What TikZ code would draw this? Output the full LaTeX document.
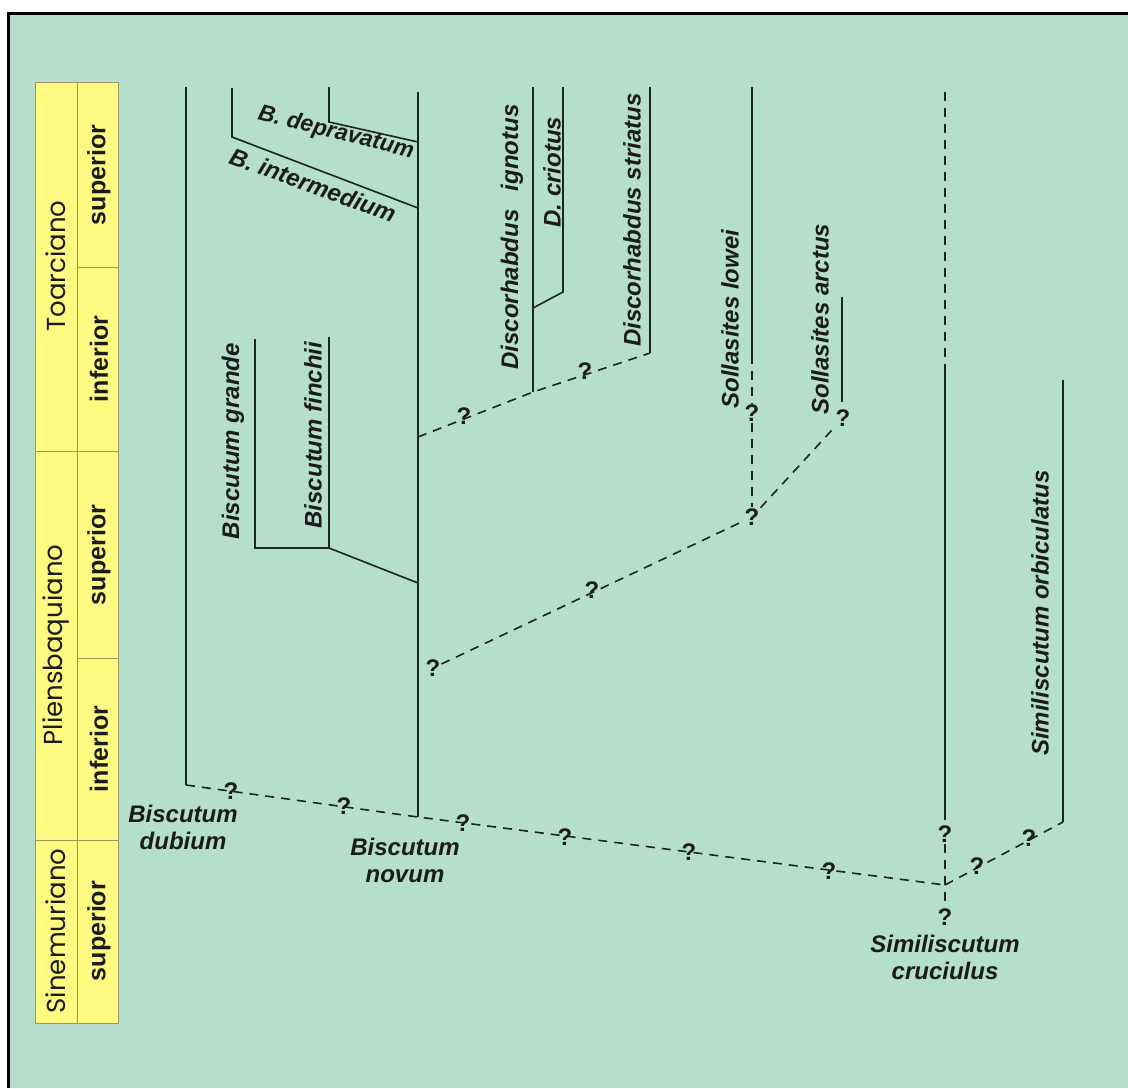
\documentclass[tikz,border=0pt]{standalone}
\usepackage{fontspec}
\setmainfont{Liberation Sans}
\newfontfamily\stagefont{Poppins}
\definecolor{bg}{RGB}{182,222,204}
\definecolor{yel}{RGB}{255,250,130}
\definecolor{cellb}{RGB}{160,150,90}
\definecolor{linec}{RGB}{28,36,32}
\definecolor{txt}{RGB}{25,28,26}
\tikzset{
 lin/.style={line width=1.6pt, draw=linec},
 dsh/.style={lin, dash pattern=on 9pt off 7pt},
 sp/.style={font=\bfseries\itshape\fontsize{24}{27}\selectfont, text=txt, inner sep=0pt, align=center},
 spv/.style={sp, rotate=90},
 qm/.style={font=\bfseries\fontsize{24}{24}\selectfont, text=txt, inner sep=1pt},
 stg/.style={font=\stagefont\fontsize{26}{26}\selectfont, text=txt, rotate=90, inner sep=0pt},
 sub/.style={font=\bfseries\fontsize{25}{25}\selectfont, text=txt, rotate=90, inner sep=0pt},
 cell/.style={draw=cellb, fill=yel, line width=0.8pt}
}
\begin{document}
\begin{tikzpicture}[x=1pt,y=-1pt]
\useasboundingbox (0,0) rectangle (1128,1088);
\fill[white] (0,0) rectangle (1128,1088);
\fill[bg] (7,12) rectangle (1128,1088);
\draw[line width=3.5pt, black] (7,13.5) -- (1128,13.5);
\draw[line width=3.5pt, black] (8.5,12) -- (8.5,1088);

% stage table
\foreach \a/\b in {82/451,451/840,840/1023} \draw[cell] (35,\a) rectangle (77,\b);
\foreach \a/\b in {82/267,267/451,451/658,658/840,840/1023} \draw[cell] (77,\a) rectangle (118,\b);
\node[stg] (toar) at (56,266) {Toarciano};
\node[stg] (plie) at (56,645) {Pliensbaquiano};
\node[stg] (sine) at (56,931) {Sinemuriano};
\node[sub] (tsup) at (99,175) {superior};
\node[sub] (tinf) at (99,359) {inferior};
\node[sub] (psup) at (99,555) {superior};
\node[sub] (pinf) at (99,749) {inferior};
\node[sub] (ssup) at (99,931) {superior};

% coordinates
\coordinate (dubT) at (186,87);  \coordinate (dubB) at (186,785);
\coordinate (novT) at (418,92);  \coordinate (novB) at (418,817);
\coordinate (J) at (945,885);
\coordinate (cruT) at (945,92);  \coordinate (cruM) at (945,368); \coordinate (cruS) at (945,820);
\coordinate (orbT) at (1063,380); \coordinate (orbB) at (1063,822);
\coordinate (intT) at (232,88);  \coordinate (intK) at (232,137); \coordinate (intE) at (418,208);
\coordinate (depT) at (329,87);  \coordinate (depK) at (329,122); \coordinate (depE) at (418,142);
\coordinate (graT) at (255,339); \coordinate (graB) at (255,548);
\coordinate (finT) at (329,337); \coordinate (finB) at (329,548); \coordinate (novG) at (418,583);
\coordinate (ignT) at (533,87);  \coordinate (ignB) at (533,392);
\coordinate (criT) at (563,87);  \coordinate (criK) at (563,292); \coordinate (criE) at (533,308);
\coordinate (strT) at (650,87);  \coordinate (strB) at (650,353);
\coordinate (novD) at (418,437);
\coordinate (lowT) at (752,87);  \coordinate (lowB) at (752,355);
\coordinate (arcT) at (842,297); \coordinate (arcB) at (842,402);

% solid ranges
\draw[lin] (dubT) -- (dubB);
\draw[lin] (novT) -- (novB);
\draw[dsh] (cruT) -- (cruM);
\draw[lin] (cruM) -- (cruS);
\draw[lin] (orbT) -- (orbB);
\draw[lin] (intT) -- (intK) -- (intE);
\draw[lin] (depT) -- (depK) -- (depE);
\draw[lin] (graT) -- (graB) -- (finB) -- (novG);
\draw[lin] (finT) -- (finB);
\draw[lin] (ignT) -- (ignB);
\draw[lin] (criT) -- (criK) -- (criE);
\draw[lin] (strT) -- (strB);
\draw[lin] (lowT) -- (lowB);
\draw[lin] (arcT) -- (arcB);

% dashed links
\draw[dsh] (dubB) -- (novB) -- (J);
\draw[dsh] (J) -- (orbB);
\draw[dsh] (novD) -- (ignB) -- (strB);

% question marks
\node[qm] (q1) at (231,791) {?};
\node[qm] (q2) at (344,806) {?};
\node[qm] (q3) at (463,823) {?};
\node[qm] (q4) at (565,837) {?};
\node[qm] (q5) at (689,852) {?};
\node[qm] (q6) at (829,871) {?};
\node[qm] (qc1) at (945,834) {?};
\node[qm] (qc2) at (945,917) {?};
\node[qm] (qo1) at (977,866) {?};
\node[qm] (qo2) at (1029,838) {?};
\node[qm] (qd1) at (464,416) {?};
\node[qm] (qd2) at (585,371) {?};
\node[qm] (qn) at (433,668) {?};
\node[qm] (qs) at (592,590) {?};
\node[qm] (ql1) at (752,413) {?};
\node[qm] (ql2) at (752,517) {?};
\node[qm] (qa) at (843,418) {?};

\draw[dsh] (qc1) -- (qc2);
\draw[dsh] (lowB) -- (ql1);
\draw[dsh] (ql1) -- (ql2);
\draw[dsh] (qn) -- (ql2);
\draw[dsh] (ql2) -- (qa);

% species labels
\node[sp] (ldub) at (183,827) {Biscutum\\dubium};
\node[sp] (lnov) at (405,860) {Biscutum\\novum};
\node[sp] (lcru) at (945,957) {Similiscutum\\cruciulus};
\node[spv] (lorb) at (1040,613) {Similiscutum orbiculatus};
\node[sp, rotate=-14, font=\bfseries\itshape\fontsize{23}{26}\selectfont] (ldep) at (336,133) {B. depravatum};
\node[sp, rotate=-20] (lint) at (313,185) {B. intermedium};
\node[spv] (lgra) at (233,441) {Biscutum grande};
\node[spv] (lfin) at (313,435) {Biscutum finchii};
\node[spv] (lign) at (512,237) {Discorhabdus\hspace{12pt} ignotus};
\node[spv] (lcri) at (552,172) {D. criotus};
\node[spv] (lstr) at (632,220) {Discorhabdus striatus};
\node[spv] (llow) at (730,319) {Sollasites lowei};
\node[spv] (larc) at (820,319) {Sollasites arctus};
\end{tikzpicture}
\end{document}
